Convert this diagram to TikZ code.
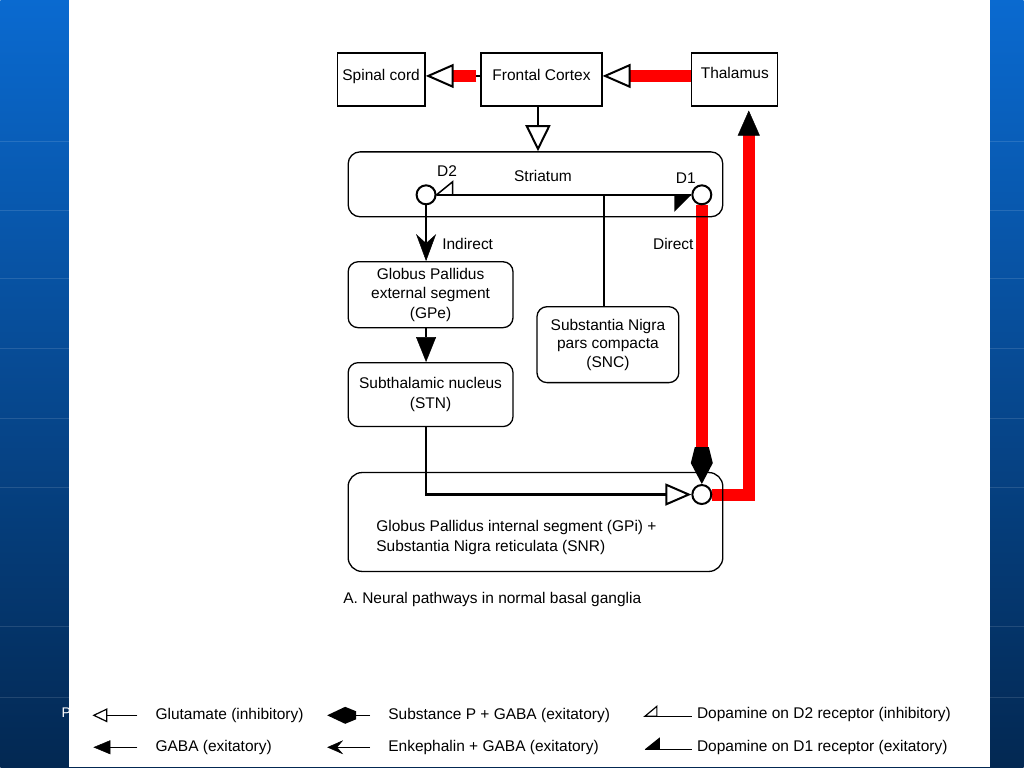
\documentclass[tikz,border=0pt]{standalone}
\usepackage{fontspec}
\setmainfont{Liberation Sans}
\usetikzlibrary{arrows.meta,calc}
\definecolor{bgtop}{RGB}{10,106,208}
\definecolor{bgbot}{RGB}{3,40,82}
\definecolor{pathred}{RGB}{255,0,0}
\pgfdeclarelayer{bg}
\pgfdeclarelayer{lines}
\pgfsetlayers{bg,lines,main}
\tikzset{
  txt/.style={font=\fontsize{15.5}{19.5}\selectfont, text=black, inner sep=0pt},
  box/.style={draw, line width=1.3pt, txt, inner sep=0pt, align=center},
  rbox/.style={box, rounded corners=10pt},
  syn/.style={circle, draw, line width=2pt, fill=white, minimum size=19pt, inner sep=0pt},
  conn/.style={draw, line width=2.2pt, line join=miter},
  thin/.style={draw, line width=1.3pt},
  redpath/.style={draw=pathred, line width=12pt},
  glut/.tip={Triangle[length=28pt, width=24pt, color=black, fill=white, line width=2pt]},
  glutb/.tip={Triangle[length=26pt, width=25pt, color=black, fill=white, line width=2pt]},
  glutc/.tip={Triangle[length=26pt, width=22pt, color=black, fill=white, line width=2pt]},
  gaba/.tip={Triangle[length=25pt, width=20pt, color=black, line width=0.5pt]},
  gabar/.tip={Triangle[length=25pt, width=22pt, color=black, line width=0.5pt]},
  enk/.tip={Stealth[length=27pt, width=20pt, inset=9pt, color=black, line width=0.5pt]},
  lglut/.tip={Triangle[length=15pt, width=14pt, color=black, fill=white, line width=1.2pt]},
  lgaba/.tip={Triangle[length=17pt, width=14pt, color=black, line width=0.5pt]},
  lenk/.tip={Stealth[length=16pt, width=14pt, inset=6pt, color=black, line width=0.5pt]},
}
\begin{document}
\begin{tikzpicture}[x=1pt,y=-1pt]
\begin{pgfonlayer}{bg}
  \shade[top color=bgtop, bottom color=bgbot] (0,0) rectangle (1024,768);
  \foreach \yy in {142,211,279,349,419,488,627,698}
    \draw[white, opacity=0.12, line width=1pt] (0,\yy) -- (1024,\yy);
  \node[font=\fontsize{14}{14}\selectfont, text=white, anchor=west, inner sep=0pt] (pp) at (61,713) {P};
  \fill[white] (69,0) rectangle (990,768);
\end{pgfonlayer}
\useasboundingbox (0,0) rectangle (1024,768);

% boxes
\node[box, minimum width=88pt, minimum height=53pt, text height=11pt, text depth=8pt] (sc) at (381,79.5) {Spinal cord};
\node[box, minimum width=121pt, minimum height=53pt, text height=11pt, text depth=8pt] (fc) at (541.5,79.5) {Frontal Cortex};
\node[box, minimum width=86pt, minimum height=53pt, text height=11pt, text depth=13pt] (th) at (735,79.5) {Thalamus};

\node[rbox, minimum width=375pt, minimum height=65pt, rounded corners=12pt] (str) at (535.5,184.5) {};
\node[txt] (strl) at (543,176) {Striatum};
\node[txt] (d2l) at (447,171) {D2};
\node[txt] (d1l) at (686,178) {D1};

\node[rbox, minimum width=165pt, minimum height=66pt] (gpe) at (430.5,295) {Globus Pallidus\\external segment\\(GPe)};
\node[rbox, minimum width=165pt, minimum height=64pt] (stn) at (430.5,395) {Subthalamic nucleus\\(STN)};
\node[rbox, minimum width=142pt, minimum height=76pt, font=\fontsize{15.5}{18.5}\selectfont] (snc) at (608,345) {Substantia Nigra\\pars compacta\\(SNC)};
\node[rbox, minimum width=375pt, minimum height=99pt, rounded corners=14pt] (gpi) at (535.5,522.5) {};
\node[txt, align=left, anchor=west] (gpil) at (376,538) {Globus Pallidus internal segment (GPi) +\\Substantia Nigra reticulata (SNR)};
\node[txt, anchor=west] (cap) at (343,600) {A. Neural pathways in normal basal ganglia};

\node[txt, anchor=west] (ind) at (442,244) {Indirect};
\node[txt, anchor=west] (dir) at (653,244) {Direct};

% synapses
\node[syn] (d2c) at (426,195) {};
\node[syn] (d1c) at (702,195) {};
\node[syn] (gpic) at (702,495) {};

\begin{pgfonlayer}{lines}
  \coordinate (ay) at (0,76);
  \coordinate (fx) at (538,0);
  \coordinate (sx) at (604,195);
  \coordinate (tx) at (749,0);
  % cortex level
  \draw[redpath, -{glut}] (th.west |- ay) -- (fc.east |- ay);
  \draw[conn] (fc.west |- ay) -- ++(-4,0) coordinate (fcs);
  \draw[redpath, -{glut}] (fcs) -- (sc.east |- ay);
  \draw[conn, -{glutb}] (fc.south -| fx) -- (str.north -| fx);
  % dopamine line
  \draw[conn] (d2c.east) -- (d1c.west);
  \draw[conn] (sx) -- (sx |- snc.north);
  % indirect pathway
  \draw[conn, -{enk}] (d2c.south) -- (d2c |- gpe.north);
  \draw[conn, -{gaba}] (d2c |- gpe.south) -- (d2c |- stn.north);
  \draw[conn, -{glutc}] (d2c |- stn.south) |- (gpic.west);
  % direct pathway
  \draw[redpath] (d1c.south) -- ($(gpic.north)+(0,-34)$);
  \draw[redpath, line join=miter, -{gabar}, shorten >=4pt] (gpic.east) -| (th.south -| tx);
\end{pgfonlayer}
% receptor marks and kite head
\filldraw[fill=white, draw=black, line width=1.5pt, line join=miter] (d2c.east) -- ++(16,-13) -- ++(0,13) -- cycle;
\fill[black] (d1c.west) -- ++(-17,0) -- ++(0,17) -- cycle;
\fill[black] (gpic.north) -- ++(-11,-21) -- ++(4,-16) -- ++(14,0) -- ++(4,16) -- cycle;

% legend
\coordinate (la1) at (137,716); \coordinate (lb1) at (92,716);
\coordinate (la2) at (137,748); \coordinate (lb2) at (93,748);
\coordinate (la3) at (370,716); \coordinate (lb3) at (327,716);
\coordinate (la4) at (370,748); \coordinate (lb4) at (327,748);
\coordinate (la5) at (692,717); \coordinate (lb5) at (645,717);
\coordinate (la6) at (692,750); \coordinate (lb6) at (645,750);
\draw[thin, -{lglut}] (la1) -- (lb1);
\draw[thin, -{lgaba}] (la2) -- (lb2);
\draw[thin] (la3) -- ($(lb3)+(28,0)$);
\fill[black] (lb3) -- ++(18,-8.5) -- ++(11,4.5) -- ++(0,8) -- ++(-11,4.5) -- cycle;
\draw[thin, -{lenk}] (la4) -- (lb4);
\draw[thin] (la5) -- (lb5);
\filldraw[fill=white, draw=black, line width=1.2pt, line join=miter] (lb5) -- ++(12,-10) -- ++(0,10) -- cycle;
\draw[thin] (la6) -- (lb6);
\fill[black] (lb6) -- ++(15,-12) -- ++(0,12) -- cycle;

\node[txt, anchor=west] (t1) at (155,716) {Glutamate (inhibitory)};
\node[txt, anchor=west] (t2) at (155,748) {GABA (exitatory)};
\node[txt, anchor=west] (t3) at (388,716) {Substance P + GABA (exitatory)};
\node[txt, anchor=west] (t4) at (388,748) {Enkephalin + GABA (exitatory)};
\node[txt, anchor=west] (t5) at (697,715) {Dopamine on D2 receptor (inhibitory)};
\node[txt, anchor=west] (t6) at (697,748) {Dopamine on D1 receptor (exitatory)};
\end{tikzpicture}
\end{document}
